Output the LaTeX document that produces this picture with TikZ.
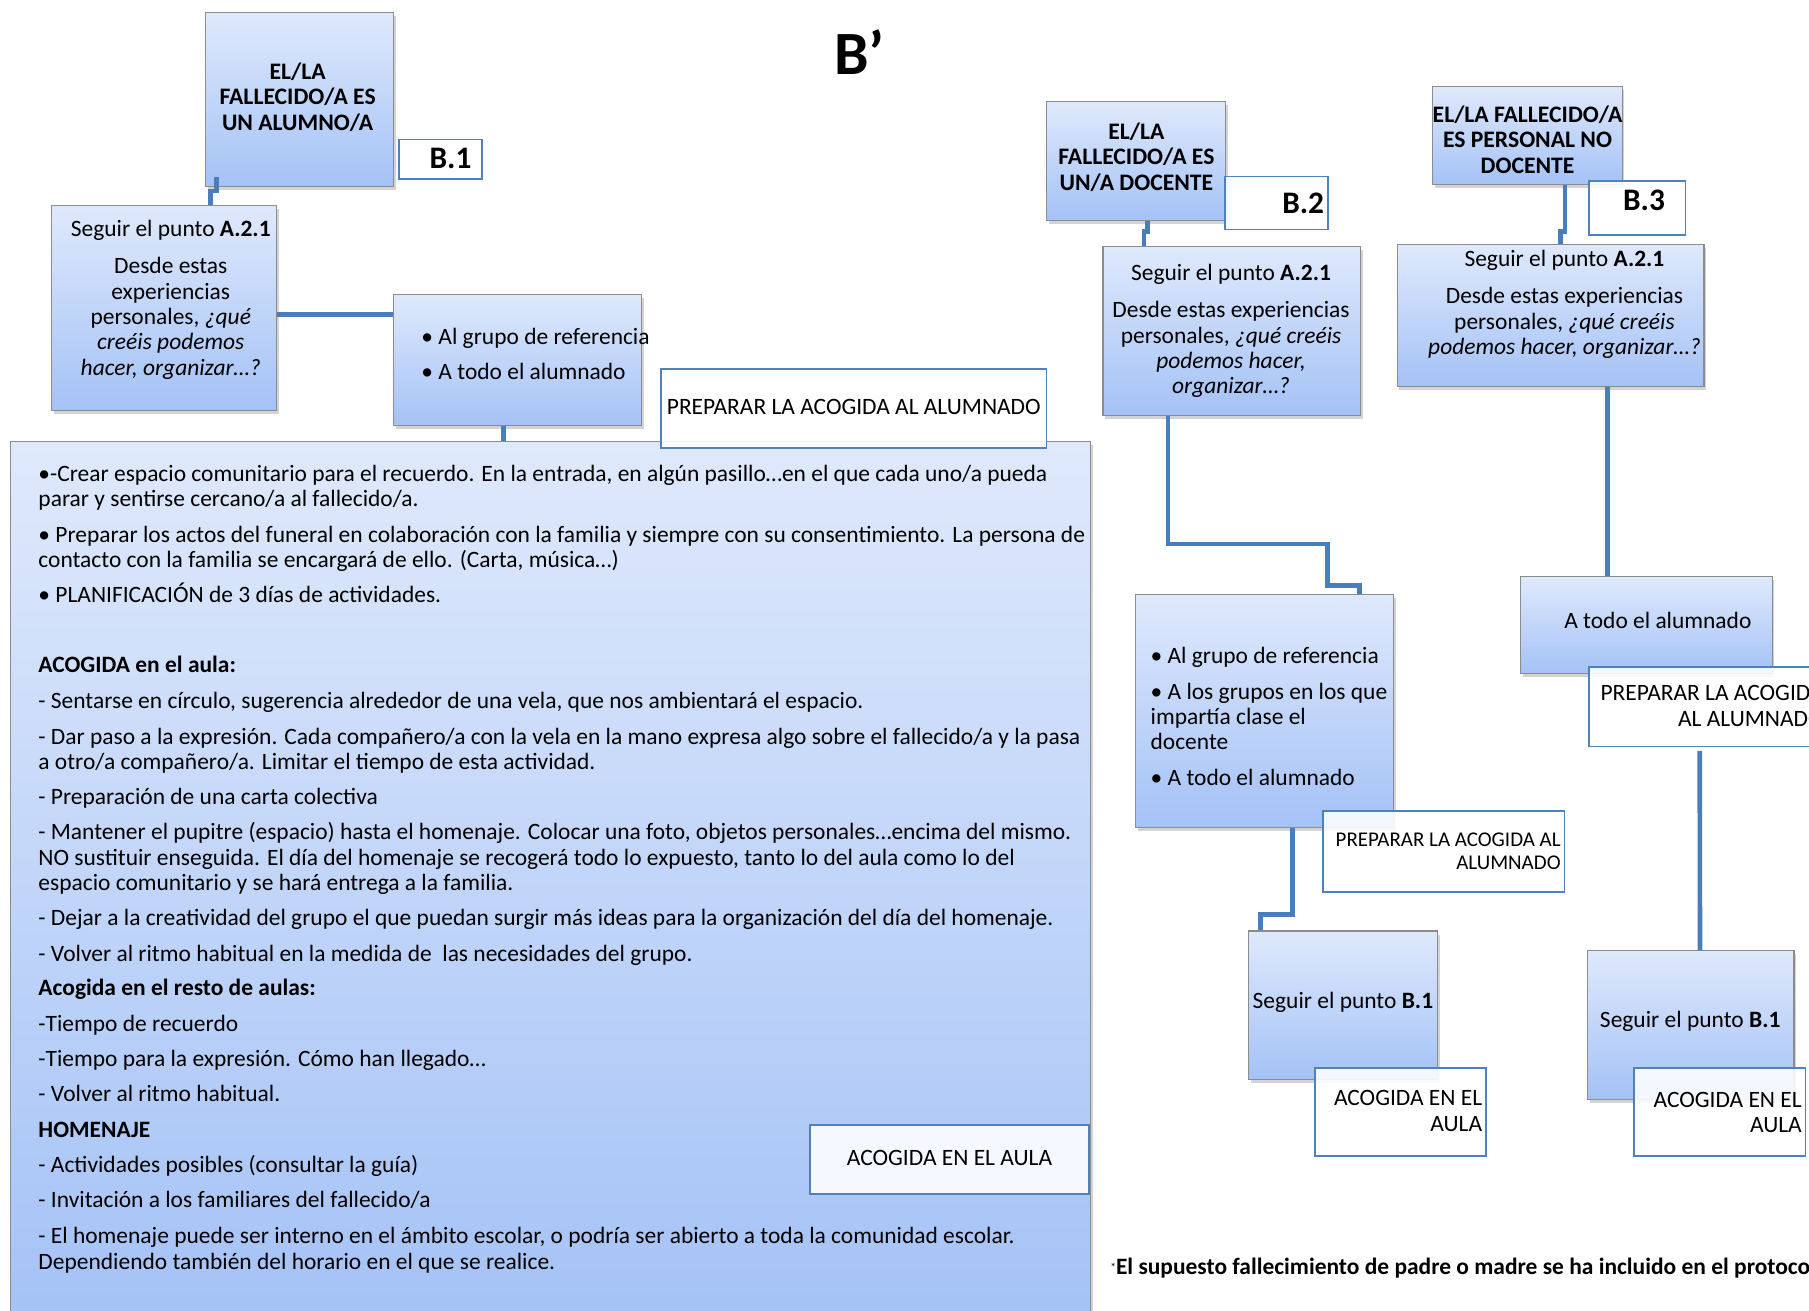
\documentclass[tikz,border=0pt]{standalone}
\usepackage{fontspec}
\setmainfont{Carlito}
\usetikzlibrary{calc,fit,shadows}
\definecolor{gtop}{RGB}{223,233,252}
\definecolor{gbot}{RGB}{164,194,246}
\definecolor{conncol}{RGB}{74,126,187}
\definecolor{wborder}{RGB}{79,129,189}
\definecolor{gborder}{RGB}{140,140,140}
\begin{document}
\begin{tikzpicture}[x=0.6pt,y=-0.6pt,
 gbox/.style={draw=gborder, line width=0.6pt, top color=gtop, bottom color=gbot, inner sep=0pt,
   drop shadow={opacity=0.35, shadow xshift=1.2pt, shadow yshift=-1.8pt}},
 wbox/.style={draw=wborder, line width=0.9pt, fill=white, fill opacity=0.88, inner sep=0pt},
 conn/.style={draw=conncol, line width=2.4pt},
 tx/.style={inner sep=0pt, font=\fontsize{12.2}{13.2}\selectfont},
 bl/.style={tx, anchor=base west},
 ctr/.style={tx, align=center},
 hd/.style={inner sep=0pt, align=center, font=\fontsize{12.3}{13.2}\selectfont\bfseries},
 lbl/.style={inner sep=0pt, font=\fontsize{16.3}{19}\selectfont\bfseries},
]
\useasboundingbox (0,0) rectangle (1568,1136);
\clip (0,0) rectangle (1568,1136);

% ---------- title ----------
\node[inner sep=0pt, font=\fontsize{32}{38}\selectfont\bfseries] (title) at (745,45) {B’};

% ---------- gradient boxes ----------
\node[gbox, fit={(178,11) (341,162)}] (a1) {};
\node[gbox, fit={(45,178) (240,356)}] (s1) {};
\node[gbox, fit={(341,255) (556,369)}] (bul1) {};
\node[gbox, fit={(9,383) (945,1150)}] (big) {};

\node[gbox, fit={(907,88) (1062,191)}] (a2) {};
\node[gbox, fit={(956,214) (1179,360)}] (s2) {};
\node[gbox, fit={(984,515) (1208,717)}] (bul2) {};
\node[gbox, fit={(1082,807) (1246,936)}] (sb2) {};

\node[gbox, fit={(1242,75) (1406,160)}] (a3) {};
\node[gbox, fit={(1211,212) (1477,335)}] (s3) {};
\node[gbox, fit={(1318,500) (1536,584)}] (at3) {};
\node[gbox, fit={(1376,824) (1555,953)}] (sb3) {};

% ---------- white label boxes ----------
\node[wbox, fit={(346,121) (418,155)}] (b1) {};
\node[wbox, fit={(573,320) (907,388)}] (prep1) {};
\node[wbox, fit={(702,975) (944,1035)}] (ac1) {};
\node[wbox, fit={(1062,153) (1151,199)}] (b2) {};
\node[wbox, fit={(1147,703) (1356,773)}] (prep2) {};
\node[wbox, fit={(1140,926) (1288,1002)}] (ac2) {};
\node[wbox, fit={(1377,157) (1461,204)}] (b3) {};
\node[wbox, fit={(1377,578) (1600,647)}] (prep3) {};
\node[wbox, fit={(1416,926) (1565,1002)}] (ac3) {};

% ---------- connectors ----------
\draw[conn] ($(a1.south west)+(10,-9)$) -- ++(0,12) -| ($(s1.north west)+(138,0)$);
\draw[conn] ($(s1.north east)+(0,95)$) -- ($(bul1.north west)+(0,18)$);
\draw[conn] ($(bul1.south west)+(96,0)$) -- ($(big.north west)+(428,0)$);

\draw[conn] ($(a2.south west)+(88,0)$) -- ++(0,9) -| ($(s2.north west)+(36,0)$);
\draw[conn] ($(s2.south west)+(57,0)$) -- ++(0,111) -- ++(138,0) -- ++(0,36) -- ++(28,0) -- ($(bul2.north west)+(195,0)$);
\draw[conn] ($(bul2.south west)+(137,0)$) -- ++(0,75) -- ++(-28,0) -- ($(sb2.north west)+(11,0)$);

\draw[conn] ($(a3.south west)+(115,0)$) -- ++(0,40) -| ($(s3.north west)+(142,0)$);
\draw[conn] ($(s3.south west)+(183,0)$) -- ($(at3.north west)+(76,0)$);
\draw[conn] ($(prep3.south west)+(97,3)$) -- ($(sb3.north west)+(98,0)$);

% ---------- texts column B.1 ----------
\node[hd] (a1t) at (258,84) {EL/LA\\FALLECIDO/A ES\\UN ALUMNO/A};
\node[lbl, anchor=east] (b1t) at (409,137) {B.1};
\node[ctr] (s1h) at (148,200) {Seguir el punto \textbf{A.2.1}};
\node[ctr] (s1p) at (148,276) {Desde estas\\experiencias\\personales, \textit{¿qué}\\\textit{creéis podemos}\\\textit{hacer, organizar…?}};
\node[bl] (bul1a) at (365,299) {•~Al grupo de referencia};
\node[bl] (bul1b) at (365,329) {•~A todo el alumnado};
\node[ctr] (prep1t) at (740,353) {PREPARAR LA ACOGIDA AL ALUMNADO};
\node[ctr] (ac1t) at (823,1004) {ACOGIDA EN EL AULA};

% big box text
\node[bl] at (33,417) {•-Crear espacio comunitario para el recuerdo. En la entrada, en algún pasillo…en el que cada uno/a pueda};
\node[bl] at (33,439) {parar y sentirse cercano/a al fallecido/a.};
\node[bl] at (33,470) {• Preparar los actos del funeral en colaboración con la familia y siempre con su consentimiento. La persona de};
\node[bl] at (33,492) {contacto con la familia se encargará de ello. (Carta, música…)};
\node[bl] at (33,522) {• PLANIFICACIÓN de 3 días de actividades.};
\node[bl] at (33,583) {\textbf{ACOGIDA en el aula:}};
\node[bl] at (33,614) {- Sentarse en círculo, sugerencia alrededor de una vela, que nos ambientará el espacio.};
\node[bl] at (33,645) {- Dar paso a la expresión. Cada compañero/a con la vela en la mano expresa algo sobre el fallecido/a y la pasa};
\node[bl] at (33,667) {a otro/a compañero/a. Limitar el tiempo de esta actividad.};
\node[bl] at (33,697) {- Preparación de una carta colectiva};
\node[bl] at (33,728) {- Mantener el pupitre (espacio) hasta el homenaje. Colocar una foto, objetos personales…encima del mismo.};
\node[bl] at (33,750) {NO sustituir enseguida. El día del homenaje se recogerá todo lo expuesto, tanto lo del aula como lo del};
\node[bl] at (33,772) {espacio comunitario y se hará entrega a la familia.};
\node[bl] at (33,802) {- Dejar a la creatividad del grupo el que puedan surgir más ideas para la organización del día del homenaje.};
\node[bl] at (33,833) {- Volver al ritmo habitual en la medida de\ \ las necesidades del grupo.};
\node[bl] at (33,863) {\textbf{Acogida en el resto de aulas:}};
\node[bl] at (33,894) {-Tiempo de recuerdo};
\node[bl] at (33,924) {-Tiempo para la expresión. Cómo han llegado…};
\node[bl] at (33,955) {- Volver al ritmo habitual.};
\node[bl] at (33,986) {\textbf{HOMENAJE}};
\node[bl] at (33,1016) {- Actividades posibles (consultar la guía)};
\node[bl] at (33,1047) {- Invitación a los familiares del fallecido/a};
\node[bl] at (33,1078) {- El homenaje puede ser interno en el ámbito escolar, o podría ser abierto a toda la comunidad escolar.};
\node[bl] at (33,1100) {Dependiendo también del horario en el que se realice.};

% ---------- texts column B.2 ----------
\node[hd] (a2t) at (985,136) {EL/LA\\FALLECIDO/A ES\\UN/A DOCENTE};
\node[lbl, anchor=east] (b2t) at (1148,176) {B.2};
\node[ctr] (s2h) at (1067,238) {Seguir el punto \textbf{A.2.1}};
\node[ctr] (s2p) at (1067,303) {Desde estas experiencias\\personales, \textit{¿qué creéis}\\\textit{podemos hacer,}\\\textit{organizar…?}};
\node[bl] at (997,575) {•~Al grupo de referencia};
\node[bl] at (997,606) {•~A los grupos en los que};
\node[bl] at (997,628) {impartía clase el};
\node[bl] at (997,650) {docente};
\node[bl] at (997,681) {•~A todo el alumnado};
\node[inner sep=0pt, align=right, anchor=east, font=\fontsize{10.9}{11.8}\selectfont] (prep2t) at (1353,738) {PREPARAR LA ACOGIDA AL\\ALUMNADO};
\node[ctr] (sb2t) at (1164,869) {Seguir el punto \textbf{B.1}};
\node[tx, align=right, anchor=east] (ac2t) at (1285,963) {ACOGIDA EN EL\\AULA};

% ---------- texts column B.3 ----------
\node[hd] (a3t) at (1324,121) {EL/LA FALLECIDO/A\\ES PERSONAL NO\\DOCENTE};
\node[lbl] (b3t) at (1425,174) {B.3};
\node[ctr] (s3h) at (1356,226) {Seguir el punto \textbf{A.2.1}};
\node[ctr] (s3p) at (1356,280) {Desde estas experiencias\\personales, \textit{¿qué creéis}\\\textit{podemos hacer, organizar…?}};
\node[ctr] (at3t) at (1437,538) {A todo el alumnado};
\node[tx, align=right, anchor=west] (prep3t) at (1387,612) {PREPARAR LA ACOGIDA\\AL ALUMNADO};
\node[ctr] (sb3t) at (1465,885) {Seguir el punto \textbf{B.1}};
\node[tx, align=right, anchor=east] (ac3t) at (1562,964) {ACOGIDA EN EL\\AULA};

% ---------- footnote ----------
\node[bl] (foot) at (962,1105) {\raisebox{0.15em}{\fontsize{6}{7}\selectfont *}\textbf{El supuesto fallecimiento de padre o madre se ha incluido en el protocolo}};
\end{tikzpicture}
\end{document}
